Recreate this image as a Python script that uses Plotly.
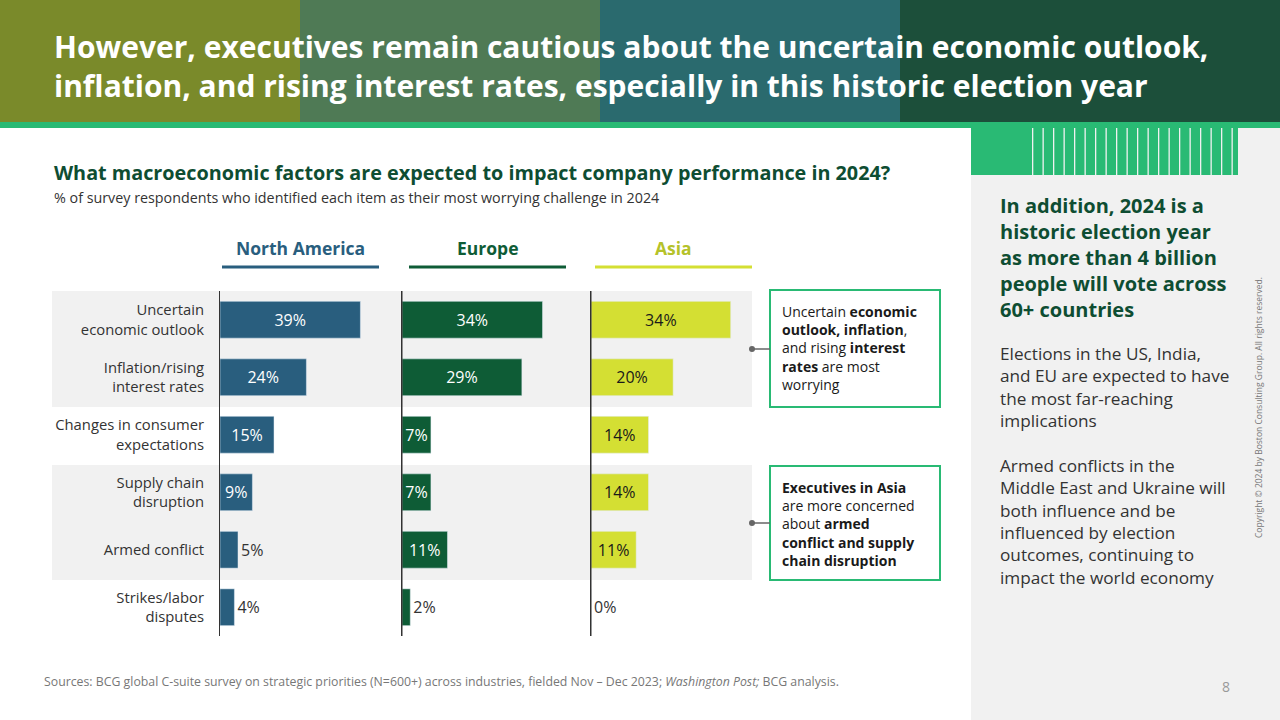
import plotly.graph_objects as go
from plotly.subplots import make_subplots

FACTORS = ["Uncertain<br>economic outlook", "Inflation/rising<br>interest rates",
           "Changes in consumer<br>expectations", "Supply chain<br>disruption",
           "Armed conflict", "Strikes/labor<br>disputes"]
REGIONS = ["North America", "Europe", "Asia"]
NORTH_AMERICA = [39, 24, 15, 9, 5, 4]
EUROPE = [34, 29, 7, 7, 11, 2]
ASIA = [34, 20, 14, 14, 11, 0]

W, H = 1280, 720
def px(x):
    return x / W
def py(y):
    return 1 - y / H

fig = make_subplots(rows=1, cols=3, shared_yaxes=True)
series = [NORTH_AMERICA, EUROPE, ASIA]
colors = ["#295e7e", "#0e5c36", "#d4df33"]
txtcol = ["white", "white", "#1a1a1a"]
ranges = [[0, 50], [0, 45], [0, 46]]
domains = [(220, 400), (402, 588), (591, 780)]
for i, vals in enumerate(series):
    pos = ["inside" if v >= 7 else "outside" for v in vals]
    fig.add_trace(go.Bar(
        x=vals, y=FACTORS, orientation="h", marker_color=colors[i], width=0.64,
        text=[f"{v}%" for v in vals], textposition=pos,
        insidetextanchor="middle", cliponaxis=False,
        insidetextfont=dict(color=txtcol[i], size=16),
        outsidetextfont=dict(color="#333", size=16),
        showlegend=False, hoverinfo="skip"), row=1, col=i + 1)
    fig.update_xaxes(range=ranges[i], domain=[px(domains[i][0]), px(domains[i][1])],
                     visible=False, row=1, col=i + 1)
fig.update_yaxes(autorange="reversed", domain=[py(636), py(291)],
                 showline=True, linecolor="#333", linewidth=1, ticks="",
                 tickfont=dict(size=14.8, color="#333"), ticklabelstandoff=12)
for c in (2, 3):
    fig.update_yaxes(showticklabels=False, row=1, col=c)

shapes = []
for y0, y1 in [(291, 407), (465, 580)]:
    shapes.append(dict(type="rect", xref="paper", yref="paper", x0=px(52), x1=px(752),
                       y0=py(y1), y1=py(y0), fillcolor="#f1f1f1", line_width=0, layer="below"))
for x in (402, 591):
    shapes.append(dict(type="line", xref="paper", yref="paper", x0=px(x), x1=px(x),
                       y0=py(636), y1=py(291), line=dict(color="#333", width=1)))
# header, a rough stand-in for the photo
hdr = [("#7a8a2a", 0, 300), ("#4f7a55", 300, 600), ("#2a6a6e", 600, 900), ("#1c4f3a", 900, 1280)]
for c, x0, x1 in hdr:
    shapes.append(dict(type="rect", xref="paper", yref="paper", x0=px(x0), x1=px(x1),
                       y0=py(122), y1=1, fillcolor=c, line_width=0, layer="below"))
shapes.append(dict(type="rect", xref="paper", yref="paper", x0=0, x1=1, y0=py(128), y1=py(122),
                   fillcolor="#29ba74", line_width=0))
shapes.append(dict(type="rect", xref="paper", yref="paper", x0=px(971), x1=1, y0=0, y1=py(128),
                   fillcolor="#f1f1f1", line_width=0, layer="below"))
shapes.append(dict(type="rect", xref="paper", yref="paper", x0=px(971), x1=px(1238), y0=py(175),
                   y1=py(128), fillcolor="#29ba74", line_width=0))
xs = 1032
while xs < 1236:
    shapes.append(dict(type="rect", xref="paper", yref="paper", x0=px(xs), x1=px(xs + 1.3),
                       y0=py(175), y1=py(128), fillcolor="#f1f1f1", line_width=0))
    xs += 10.5
for (x0, x1), c in zip([(222, 379), (409, 566), (595, 752)], ["#295e7e", "#0e5c36", "#d4df33"]):
    shapes.append(dict(type="line", xref="paper", yref="paper", x0=px(x0), x1=px(x1),
                       y0=py(267), y1=py(267), line=dict(color=c, width=3)))
for y0, y1 in [(290, 407), (466, 580)]:
    shapes.append(dict(type="rect", xref="paper", yref="paper", x0=px(770), x1=px(940),
                       y0=py(y1), y1=py(y0), line=dict(color="#29ba74", width=2), fillcolor="white"))
for y in (349, 523):
    shapes.append(dict(type="line", xref="paper", yref="paper", x0=px(752), x1=px(770),
                       y0=py(y), y1=py(y), line=dict(color="#666", width=1.5)))
    shapes.append(dict(type="circle", xref="paper", yref="paper", x0=px(749), x1=px(755),
                       y0=py(y + 3), y1=py(y - 3), fillcolor="#666", line_width=0))

ann = []
def text(x, y, t, size=14, color="#333", anchor="left", yanchor="top", bold=False):
    ann.append(dict(xref="paper", yref="paper", x=px(x), y=py(y), text=f"<b>{t}</b>" if bold else t,
                    showarrow=False, xanchor=anchor, yanchor=yanchor, align=anchor,
                    font=dict(size=size, color=color)))

text(52, 24, "However, executives remain cautious about the uncertain economic outlook,<br>"
     "inflation, and rising interest rates, especially in this historic election year",
     size=30, color="white", bold=True)
text(52, 157, "What macroeconomic factors are expected to impact company performance in 2024?",
     size=19.8, color="#0e4d32", bold=True)
text(52, 186, "% of survey respondents who identified each item as their most worrying challenge in 2024",
     size=14.3)
for (x0, x1), r, c in zip([(222, 379), (409, 566), (595, 752)], REGIONS, ["#295e7e", "#0e5c36", "#b5c22a"]):
    text((x0 + x1) / 2, 248, r, size=17.5, color=c, anchor="center", yanchor="middle", bold=True)
text(780, 300, "Uncertain <b>economic<br>outlook, inflation</b>,<br>and rising <b>interest<br>rates</b> are most<br>worrying",
     size=14, color="#1a1a1a")
text(780, 476, "<b>Executives in Asia</b><br>are more concerned<br>about <b>armed<br>conflict and supply<br>chain disruption</b>",
     size=14, color="#1a1a1a")
text(998, 190, "In addition, 2024 is a<br>historic election year<br>as more than 4 billion<br>people will vote across<br>60+ countries",
     size=20, color="#0e4d32", bold=True)
text(998, 340, "Elections in the US, India,<br>and EU are expected to have<br>the most far-reaching<br>implications<br><br>"
     "Armed conflicts in the<br>Middle East and Ukraine will<br>both influence and be<br>influenced by election<br>"
     "outcomes, continuing to<br>impact the world economy", size=17.2, color="#333")
text(42, 681, "Sources: BCG global C-suite survey on strategic priorities (N=600+) across industries, fielded Nov – Dec 2023; "
     "<i>Washington Post;</i> BCG analysis.", size=12.3, color="#777", yanchor="middle")
text(1232, 686, "8", size=14, color="#999", anchor="right", yanchor="middle")
ann.append(dict(xref="paper", yref="paper", x=px(1266), y=py(540), text="Copyright © 2024 by Boston Consulting Group. All rights reserved.",
                showarrow=False, textangle=-90, font=dict(size=8.5, color="#777")))

fig.update_layout(width=W, height=H, margin=dict(l=0, r=0, t=0, b=0), plot_bgcolor="rgba(0,0,0,0)",
                  paper_bgcolor="white", shapes=shapes, annotations=ann, bargap=0.36,
                  font=dict(family="Open Sans, sans-serif"))
fig.write_html("out.html", config={"displayModeBar": False},
               post_script="document.body.style.margin='0';")
